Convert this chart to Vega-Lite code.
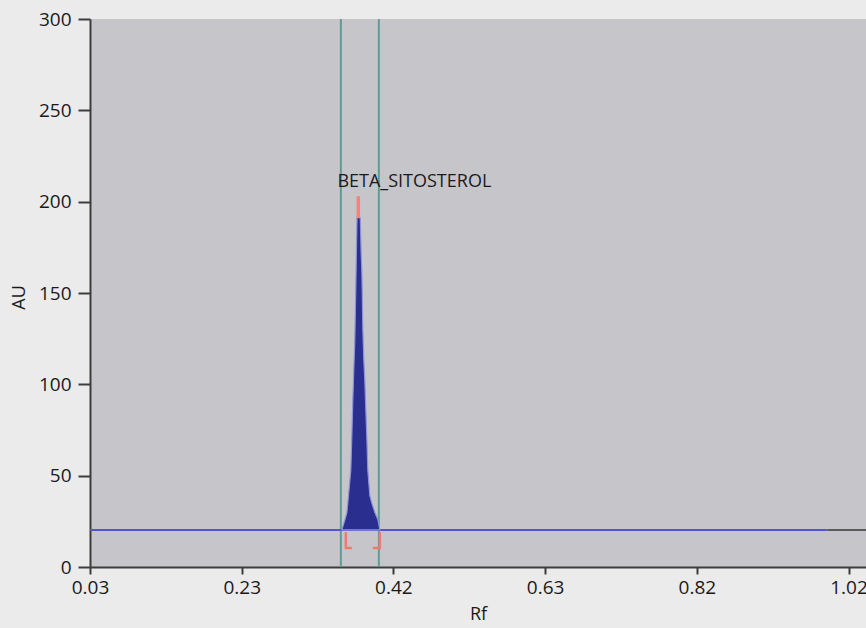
{
  "$schema": "https://vega.github.io/schema/vega-lite/v6.json",
  "width": 776,
  "height": 548,
  "autosize": "none",
  "padding": {"left": 90, "top": 19, "right": 0, "bottom": 61},
  "background": "#ebebeb",
  "config": {
    "view": {"fill": "#c6c6ca", "stroke": null},
    "font": "Open Sans",
    "axis": {
      "domainColor": "#3c3c3c", "domainWidth": 2, "tickColor": "#3c3c3c", "tickWidth": 2,
      "labelFont": "Open Sans", "labelFontSize": 19, "labelColor": "#1a1a1a",
      "titleFont": "Open Sans", "titleFontSize": 18, "titleFontWeight": "normal", "titleColor": "#1a1a1a",
      "grid": false
    }
  },
  "datasets": {
    "markers": [{"rf": 0.3574}, {"rf": 0.4070}],
    "baseline": [
      {"rf": 0.03, "au": 20.3, "seg": "blue"},
      {"rf": 0.993, "au": 20.3, "seg": "blue"},
      {"rf": 0.993, "au": 20.3, "seg": "gray"},
      {"rf": 1.0428, "au": 20.3, "seg": "gray"}
    ],
    "peak": [
      {"rf": 0.3587, "au": 20.3},
      {"rf": 0.3626, "au": 25.7},
      {"rf": 0.3652, "au": 29.6},
      {"rf": 0.3665, "au": 35.0},
      {"rf": 0.3704, "au": 53.0},
      {"rf": 0.3717, "au": 71.0},
      {"rf": 0.3730, "au": 91.0},
      {"rf": 0.3743, "au": 108.0},
      {"rf": 0.3756, "au": 124.0},
      {"rf": 0.3768, "au": 150.0},
      {"rf": 0.3778, "au": 175.0},
      {"rf": 0.3785, "au": 191.3},
      {"rf": 0.3800, "au": 191.6},
      {"rf": 0.3828, "au": 191.0},
      {"rf": 0.3838, "au": 173.0},
      {"rf": 0.3848, "au": 162.0},
      {"rf": 0.3855, "au": 146.0},
      {"rf": 0.3861, "au": 130.0},
      {"rf": 0.3874, "au": 113.0},
      {"rf": 0.3887, "au": 102.0},
      {"rf": 0.3900, "au": 86.0},
      {"rf": 0.3913, "au": 71.0},
      {"rf": 0.3926, "au": 53.0},
      {"rf": 0.3952, "au": 39.0},
      {"rf": 0.3978, "au": 35.0},
      {"rf": 0.4017, "au": 30.0},
      {"rf": 0.4057, "au": 26.0},
      {"rf": 0.4083, "au": 20.3}
    ],
    "apex": [{"rf": 0.3802, "au": 191.0, "au2": 203.0}],
    "brackets": [
      {"side": "L", "ord": 1, "rf": 0.3639, "au": 19.0},
      {"side": "L", "ord": 2, "rf": 0.3639, "au": 10.4},
      {"side": "L", "ord": 3, "rf": 0.3717, "au": 10.4},
      {"side": "R", "ord": 1, "rf": 0.4083, "au": 19.0},
      {"side": "R", "ord": 2, "rf": 0.4083, "au": 10.4},
      {"side": "R", "ord": 3, "rf": 0.3991, "au": 10.4}
    ],
    "labels": [{"rf": 0.4533, "au": 210.8, "text": "BETA_SITOSTEROL"}]
  },
  "layer": [
    {
      "data": {"name": "markers"},
      "mark": {"type": "rule", "color": "#5f9c95", "strokeWidth": 2},
      "encoding": {
        "x": {
          "field": "rf", "type": "quantitative",
          "scale": {"domain": [0.03, 1.0428], "nice": false, "zero": false},
          "axis": {
            "title": "Rf", "values": [0.03, 0.228, 0.426, 0.624, 0.822, 1.02],
            "labelExpr": "datum.value < 0.1 ? '0.03' : datum.value < 0.3 ? '0.23' : datum.value < 0.5 ? '0.42' : datum.value < 0.7 ? '0.63' : datum.value < 0.9 ? '0.82' : '1.02'",
            "tickSize": 7, "labelPadding": 4, "labelFlush": false,
            "titleX": 388, "titleY": 47, "titleBaseline": "middle", "titleAnchor": null
          }
        }
      }
    },
    {
      "data": {"name": "baseline"},
      "mark": {"type": "line", "strokeWidth": 2},
      "encoding": {
        "x": {"field": "rf", "type": "quantitative"},
        "y": {
          "field": "au", "type": "quantitative",
          "scale": {"domain": [0, 300], "nice": false},
          "axis": {
            "title": "AU", "values": [0, 50, 100, 150, 200, 250, 300],
            "tickSize": 12, "labelPadding": 7,
            "titleX": -71, "titleY": 278, "titleAngle": -90, "titleAlign": "center", "titleBaseline": "middle", "titleAnchor": null
          }
        },
        "detail": {"field": "seg"},
        "color": {"field": "seg", "type": "nominal", "scale": {"domain": ["blue", "gray"], "range": ["#5357c6", "#5a5a5a"]}, "legend": null}
      }
    },
    {
      "data": {"name": "peak"},
      "mark": {"type": "area", "color": "#2a2e8f", "stroke": "#8e93d8", "strokeWidth": 1.2},
      "encoding": {
        "x": {"field": "rf", "type": "quantitative"},
        "y": {"field": "au", "type": "quantitative"},
        "y2": {"datum": 20.3}
      }
    },
    {
      "data": {"name": "apex"},
      "mark": {"type": "rule", "color": "#f2847b", "strokeWidth": 3.5},
      "encoding": {
        "x": {"field": "rf", "type": "quantitative"},
        "y": {"field": "au", "type": "quantitative"},
        "y2": {"field": "au2"}
      }
    },
    {
      "data": {"name": "brackets"},
      "mark": {"type": "line", "color": "#ef7a72", "strokeWidth": 2.5},
      "encoding": {
        "x": {"field": "rf", "type": "quantitative"},
        "y": {"field": "au", "type": "quantitative"},
        "detail": {"field": "side"},
        "order": {"field": "ord", "type": "quantitative"}
      }
    },
    {
      "data": {"name": "labels"},
      "mark": {"type": "text", "font": "Open Sans", "fontSize": 18, "color": "#1a1a1a", "align": "center", "baseline": "middle"},
      "encoding": {
        "x": {"field": "rf", "type": "quantitative"},
        "y": {"field": "au", "type": "quantitative"},
        "text": {"field": "text"}
      }
    }
  ]
}
